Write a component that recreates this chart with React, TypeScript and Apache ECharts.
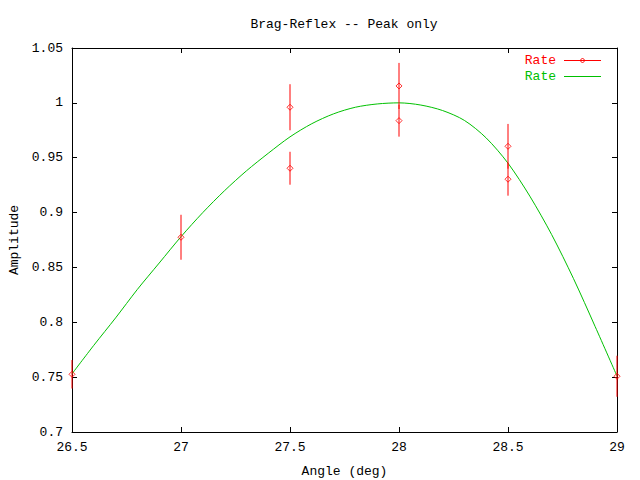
import React, { useEffect, useRef } from "react";
import * as echarts from "echarts";

const TITLE = "Brag-Reflex -- Peak only";
const X_NAME = "Angle (deg)";
const Y_NAME = "Amplitude";
const LEGEND_NAMES = ["Rate", "Rate"];

// measured data points with error bars
const rateX = [26.5, 27, 27.5, 27.5, 28, 28, 28.5, 28.5, 29];
const rateY = [0.7526, 0.8775, 0.996, 0.9404, 1.0154, 0.9838, 0.9604, 0.9304, 0.7508];
const rateErr = [0.013, 0.0205, 0.021, 0.015, 0.021, 0.0146, 0.0204, 0.015, 0.0187];

// fitted curve
const fitX = [26.5, 26.6, 26.7, 26.8, 26.9, 27.0, 27.1, 27.2, 27.3, 27.4, 27.5, 27.6, 27.7, 27.8, 27.9, 28.0, 28.1, 28.2, 28.3, 28.4, 28.5, 28.6, 28.7, 28.8, 28.9, 29.0];
const fitY = [0.753, 0.779, 0.804, 0.83, 0.854, 0.878, 0.9, 0.92, 0.938, 0.954, 0.969, 0.981, 0.99, 0.996, 0.999, 1.0, 0.998, 0.993, 0.984, 0.968, 0.945, 0.915, 0.88, 0.84, 0.796, 0.751];

const RED = "#ff0000";
const GREEN = "#00c000";
const FONT_FAMILY = '"Liberation Mono", "DejaVu Sans Mono", monospace';

export default function App() {
  const ref = useRef<HTMLDivElement>(null);

  useEffect(() => {
    if (!ref.current) return;
    const chart = echarts.init(ref.current, undefined, { renderer: "svg" });

    const fmt = (v: number) => String(parseFloat(v.toFixed(2)));

    const axisCommon = {
      axisLine: { show: true, onZero: false, lineStyle: { color: "#000", width: 1 } },
      axisTick: { show: true, inside: true, length: 5, lineStyle: { color: "#000", width: 1 } },
      splitLine: { show: false },
    };

    const errData = rateX.map((x, i) => [x, rateY[i] - rateErr[i], rateY[i] + rateErr[i]]);

    chart.setOption({
      animation: false,
      backgroundColor: "#fff",
      grid: {
        left: 72,
        right: 23,
        top: 48,
        bottom: 48,
        containLabel: false,
        outerBoundsMode: "none",
      },
      xAxis: [
        {
          type: "value",
          min: 26.5,
          max: 29,
          interval: 0.5,
          position: "bottom",
          name: X_NAME,
          nameLocation: "middle",
          nameGap: 33,
          nameTextStyle: { color: "#000", fontFamily: FONT_FAMILY, fontSize: 13 },
          axisLabel: { color: "#000", fontFamily: FONT_FAMILY, fontSize: 13, margin: 9, formatter: fmt },
          ...axisCommon,
        },
        {
          type: "value",
          min: 26.5,
          max: 29,
          interval: 0.5,
          position: "top",
          axisLabel: { show: false },
          ...axisCommon,
        },
      ],
      yAxis: [
        {
          type: "value",
          min: 0.7,
          max: 1.05,
          interval: 0.05,
          position: "left",
          name: Y_NAME,
          nameLocation: "middle",
          nameGap: 50,
          nameRotate: 90,
          nameTextStyle: { color: "#000", fontFamily: FONT_FAMILY, fontSize: 13 },
          axisLabel: { color: "#000", fontFamily: FONT_FAMILY, fontSize: 13, margin: 9, formatter: fmt },
          ...axisCommon,
        },
        {
          type: "value",
          min: 0.7,
          max: 1.05,
          interval: 0.05,
          position: "right",
          axisLabel: { show: false },
          ...axisCommon,
        },
      ],
      graphic: [
        {
          type: "text",
          x: 344,
          y: 24,
          style: {
            text: TITLE,
            fill: "#000",
            font: `13px ${FONT_FAMILY}`,
            align: "center",
            verticalAlign: "middle",
          },
        },
        {
          type: "text",
          x: 556,
          y: 60,
          style: {
            text: LEGEND_NAMES[0],
            fill: RED,
            font: `13px ${FONT_FAMILY}`,
            align: "right",
            verticalAlign: "middle",
          },
        },
        {
          type: "line",
          shape: { x1: 564, y1: 60.5, x2: 601, y2: 60.5 },
          style: { stroke: RED, lineWidth: 1 },
        },
        {
          type: "polygon",
          shape: { points: [[582.5, 58], [585, 60.5], [582.5, 63], [580, 60.5]] },
          style: { stroke: RED, fill: "none", lineWidth: 1 },
        },
        {
          type: "text",
          x: 556,
          y: 76,
          style: {
            text: LEGEND_NAMES[1],
            fill: GREEN,
            font: `13px ${FONT_FAMILY}`,
            align: "right",
            verticalAlign: "middle",
          },
        },
        {
          type: "line",
          shape: { x1: 564, y1: 76.5, x2: 601, y2: 76.5 },
          style: { stroke: GREEN, lineWidth: 1 },
        },
      ],
      series: [
        {
          type: "custom",
          name: "Rate",
          xAxisIndex: 0,
          yAxisIndex: 0,
          clip: false,
          data: errData,
          renderItem: (params: any, api: any) => {
            const x = api.value(0);
            const lo = api.coord([x, api.value(1)]);
            const hi = api.coord([x, api.value(2)]);
            return {
              type: "line",
              shape: { x1: lo[0], y1: lo[1], x2: hi[0], y2: hi[1] },
              style: { stroke: RED, lineWidth: 1 },
            };
          },
          z: 3,
        },
        {
          type: "scatter",
          name: "RatePts",
          xAxisIndex: 0,
          yAxisIndex: 0,
          data: rateX.map((x, i) => [x, rateY[i]]),
          symbol: "diamond",
          symbolSize: 6,
          itemStyle: { color: "rgba(0,0,0,0)", borderColor: RED, borderWidth: 1 },
          z: 4,
        },
        {
          type: "line",
          name: "Fit",
          xAxisIndex: 0,
          yAxisIndex: 0,
          data: fitX.map((x, i) => [x, fitY[i]]),
          smooth: 0.3,
          showSymbol: false,
          symbol: "none",
          lineStyle: { color: GREEN, width: 1 },
          itemStyle: { color: GREEN },
          z: 2,
        },
      ],
    });

    return () => chart.dispose();
  }, []);

  return (
    <div
      ref={ref}
      style={{ position: "fixed", left: 0, top: 0, width: 640, height: 480, background: "#fff" }}
    />
  );
}
